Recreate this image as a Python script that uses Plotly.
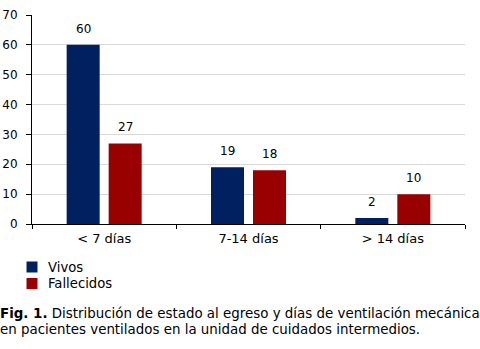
import plotly.graph_objects as go

categories = ["< 7 días", "7-14 días", "> 14 días"]
vivos = [60, 19, 2]
fallecidos = [27, 18, 10]
y_ticks = [0, 10, 20, 30, 40, 50, 60, 70]
series_names = ["Vivos", "Fallecidos"]
series_colors = ["#002060", "#990000"]
caption_lines = [
    "<b>Fig. 1.</b> Distribución de estado al egreso y días de ventilación mecánica",
    "en pacientes ventilados en la unidad de cuidados intermedios.",
]

FONT = "DejaVu Sans, Verdana, sans-serif"

# plot area in pixels (used to place the legend and caption in paper units)
W, H = 480, 349
L, R, T, B = 32, 15, 15, 125
PW, PH = W - L - R, H - T - B

BARGAP, GROUPGAP = 0.418, 0.214
# horizontal offset of each bar's centre from its category centre, in px
slot = PW / len(categories) * (1 - BARGAP) / 2
bar_offsets = [-slot / 2, slot / 2]


def px_x(px):
    return (px - L) / PW


def px_y(py):
    return (H - B - py) / PH


fig = go.Figure()
annotations = []
for name, vals, color, dx in zip(series_names, [vivos, fallecidos], series_colors, bar_offsets):
    fig.add_trace(go.Bar(
        name=name, x=categories, y=vals,
        marker=dict(color=color, line=dict(width=0)),
        showlegend=False,
    ))
    # value labels above each bar
    for cat, v in zip(categories, vals):
        annotations.append(dict(
            text=str(v), x=cat, y=v, xref="x", yref="y",
            xanchor="center", yanchor="bottom", xshift=dx, yshift=7,
            showarrow=False, font=dict(size=12, family=FONT, color="#000000"),
        ))

shapes = []
# legend: colour squares with labels beneath the plot
for i, (name, color) in enumerate(zip(series_names, series_colors)):
    top = 261.5 + i * 16.5
    shapes.append(dict(
        type="rect", xref="paper", yref="paper",
        x0=px_x(26.5), x1=px_x(37.5), y0=px_y(top + 11), y1=px_y(top),
        fillcolor=color, line=dict(width=0),
    ))
    annotations.append(dict(
        text=name, xref="paper", yref="paper",
        x=px_x(46), y=px_y(top + 5.5), xanchor="left", yanchor="middle",
        showarrow=False, font=dict(size=13.2, family=FONT, color="#000000"),
    ))

# figure caption, two lines
for i, line in enumerate(caption_lines):
    annotations.append(dict(
        text=line, xref="paper", yref="paper",
        x=px_x(-1), y=px_y(313.5 + i * 15.8), xanchor="left", yanchor="middle",
        align="left", showarrow=False, borderpad=0,
        font=dict(size=13.4, family=FONT, color="#000000"),
    ))

fig.update_layout(
    width=W, height=H,
    margin=dict(l=L, r=R, t=T, b=B, autoexpand=False),
    paper_bgcolor="white", plot_bgcolor="white",
    font=dict(family=FONT, size=12, color="#000000"),
    barmode="group", bargap=BARGAP, bargroupgap=GROUPGAP,
    showlegend=False,
    xaxis=dict(
        showline=True, linecolor="#000000", linewidth=1,
        ticks="outside", ticklen=4, tickcolor="#000000",
        tickson="boundaries", showgrid=False,
        tickfont=dict(size=13), ticklabelstandoff=2,
    ),
    yaxis=dict(
        range=[0, 70], tickvals=y_ticks,
        showline=True, linecolor="#000000", linewidth=1,
        ticks="outside", ticklen=5, tickcolor="#000000",
        showgrid=True, gridcolor="#d9d9d9", gridwidth=1,
        zeroline=False, tickfont=dict(size=12), ticklabelstandoff=6,
    ),
    shapes=shapes,
    annotations=annotations,
)

fig.write_html("out.html")
